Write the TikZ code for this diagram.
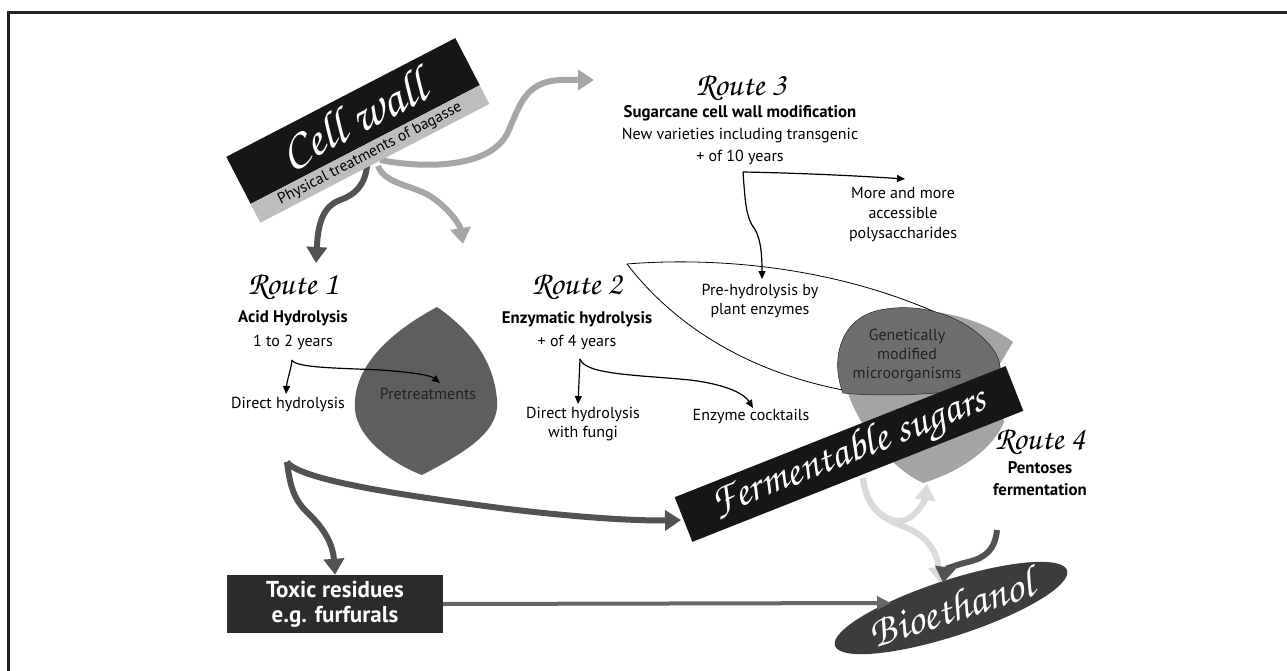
\documentclass[tikz,border=0pt]{standalone}
\usepackage{fontspec}
\setmainfont{PT Sans}
\newfontfamily\scr{texgyrechorus-mediumitalic.otf}
\usetikzlibrary{arrows.meta,shapes.geometric}
\definecolor{frm}{HTML}{222222}
\definecolor{darkarr}{HTML}{525252}
\definecolor{lightarr}{HTML}{A6A6A6}
\definecolor{palearr}{HTML}{DADADA}
\definecolor{leafA}{HTML}{5E5E5E}
\definecolor{gmblob}{HTML}{6E6E6E}
\definecolor{leafB}{HTML}{A4A4A4}
\definecolor{band}{HTML}{BDBDBD}
\definecolor{cwblack}{HTML}{161616}
\definecolor{toxc}{HTML}{2B2B2B}
\definecolor{bioc}{HTML}{3C3C3C}
\definecolor{hline}{HTML}{666666}
\begin{document}
\begin{tikzpicture}[x=1pt,y=-1pt,
  t/.style={font=\fontsize{16}{20}\selectfont, align=center, inner sep=0pt, text=black},
  bt/.style={font=\bfseries\fontsize{16.8}{22}\selectfont, align=center, inner sep=0pt, text=black},
  rt/.style={font=\scr\fontsize{33}{33}\selectfont, inner sep=0pt},
  bigarr/.style={line width=6pt, -{Triangle[width=20pt,length=16pt]}},
  routearr/.style={line width=1.2pt, -{Triangle[width=7pt,length=8pt]}},
  lensline/.style={line width=0.8pt, draw=black}]
\useasboundingbox (0,0) rectangle (1287,671);
\fill[white] (0,0) rectangle (1287,671);
% frame (top and left edges)
\draw[frm, line width=3pt] (8,671) -- (8,13) -- (1287,13);

% lens outline
\coordinate (lensL) at (627,264);
\coordinate (lensT) at (935,312);
\coordinate (lensB) at (843,390);
\draw[lensline] (lensL) .. controls (700,258) and (820,262) .. (lensT);
\draw[lensline] (lensL) .. controls (670,320) and (740,370) .. (lensB);

% pretreatments leaf
\fill[leafA] (437,307) .. controls (385,335) and (352,370) .. (355,410)
  .. controls (358,440) and (395,465) .. (422,475)
  .. controls (470,450) and (500,430) .. (497,400)
  .. controls (494,360) and (470,330) .. (437,307) -- cycle;

% light leaf and GM blob
\fill[leafB] (1013,342) -- (995,372) -- (1004,422)
  .. controls (990,455) and (950,475) .. (923,483)
  .. controls (895,470) and (870,440) .. (855,410)
  .. controls (840,380) and (838,350) .. (860,325)
  .. controls (900,300) and (970,310) .. (1013,342) -- cycle;
\filldraw[fill=gmblob, draw=frm, line width=0.5pt] (843,393) .. controls (830,360) and (840,318) .. (880,310)
  .. controls (920,302) and (960,315) .. (985,340)
  .. controls (1000,355) and (1005,370) .. (995,385)
  .. controls (950,395) and (880,397) .. (843,393) -- cycle;

% Route 3
\node[rt] (r3) at (741,88) {Route 3};
\node[bt] (r3a) at (740,113) {Sugarcane cell wall modification};
\node[t, font=\fontsize{16}{22}\selectfont] (r3b) at (740,146) {New varieties including transgenic\\+ of 10 years};
\node[t] (more) at (903,215) {More and more\\accessible\\polysaccharides};
\node[t, font=\fontsize{16}{19}\selectfont] (ph) at (760,301) {Pre-hydrolysis by\\plant enzymes};
\coordinate (r3o) at (743,172);
\draw[routearr] (r3o) .. controls (800,173) and (860,176) .. (905,179);
\draw[routearr] (r3o) .. controls (745,200) and (746,215) .. (752,225) .. controls (760,235) and (762,250) .. (762,279);

% Route 1
\node[rt] (r1) at (293,287) {Route 1};
\node[bt] (r1a) at (293,318) {Acid Hydrolysis};
\node[t] (r1b) at (293,342) {1 to 2 years};
\node[t] (dh1) at (288,404) {Direct hydrolysis};
\node[t, text=frm] (pre) at (428,394) {Pretreatments};
\coordinate (r1o) at (292,360);
\draw[routearr] (r1o) .. controls (291,370) and (287,380) .. (286,394);
\draw[routearr] (r1o) .. controls (295,368) and (340,368) .. (380,370) .. controls (410,372) and (430,375) .. (440,383);

% Route 2
\node[rt] (r2) at (577,287) {Route 2};
\node[bt] (r2a) at (577,319) {Enzymatic hydrolysis};
\node[t] (r2b) at (577,342) {+ of 4 years};
\node[t, font=\fontsize{16}{19}\selectfont] (dh2) at (583,424) {Direct hydrolysis\\with fungi};
\node[t] (ec) at (751,416) {Enzyme cocktails};
\coordinate (r2o) at (580,359);
\draw[routearr] (r2o) -- (578,404);
\draw[routearr] (r2o) .. controls (585,375) and (640,375) .. (690,380) .. controls (730,385) and (745,395) .. (753,408);

% GM text
\node[t, font=\fontsize{16}{19}\selectfont, text=frm] (gm) at (907,355) {Genetically\\modified\\microorganisms};

% Cell wall
\coordinate (cwo) at (372,164);
\draw[bigarr, darkarr] (367,166) .. controls (365,185) and (355,195) .. (340,200) .. controls (322,207) and (318,225) .. (316,263);
\draw[bigarr, lightarr] (378,166) .. controls (385,185) and (415,185) .. (433,198) .. controls (450,210) and (460,225) .. (463,244);
\draw[bigarr, lightarr] (380,160) .. controls (420,168) and (490,170) .. (508,132) .. controls (520,105) and (525,82) .. (560,80) -- (594,80);
\node[rotate=27.4, fill=cwblack, minimum width=258pt, minimum height=53pt, inner sep=0pt, text=white, font=\scr\fontsize{50}{50}\selectfont] (cw) at (353,121) {Cell wall};
\node[rotate=27.4, fill=band, minimum width=258pt, minimum height=21pt, inner sep=0pt, text=black, font=\fontsize{15.5}{15.5}\selectfont] (phys) at (370,154) {Physical treatments of bagasse};

% pale arrows
\coordinate (fsb) at (863,478);
\draw[bigarr, palearr] (fsb) .. controls (866,510) and (890,525) .. (905,520) .. controls (918,515) and (925,500) .. (927,484);
\draw[bigarr, palearr] (fsb) .. controls (866,510) and (885,520) .. (905,527) .. controls (925,535) and (937,550) .. (940,583);

% Fermentable sugars
\node[rotate=21.6, fill=cwblack, minimum width=356pt, minimum height=48pt, inner sep=0pt, text=white, font=\scr\fontsize{43}{43}\selectfont] (fs) at (849,454) {Fermentable sugars};

% Route 4
\node[rt] (r4) at (1040,442) {Route 4};
\node[bt] (r4a) at (1040,479) {Pentoses\\fermentation};

% Toxic residues
\node[fill=toxc, minimum width=216pt, minimum height=58pt, inner sep=0pt, text=white, font=\bfseries\fontsize{23}{25}\selectfont, align=center] (tox) at (335,604) {Toxic residues\\e.g. furfurals};

% Bioethanol
\node[ellipse, rotate=18, fill=bioc, minimum width=244pt, minimum height=56pt, inner sep=0pt, text=white, font=\scr\fontsize{44}{44}\selectfont] (bio) at (951,608) {Bioethanol};

% route 1 big arrows
\coordinate (r1big) at (287,462);
\draw[bigarr, darkarr] (r1big) .. controls (290,485) and (293,500) .. (310,515) .. controls (325,530) and (333,545) .. (tox.north);
\draw[bigarr, darkarr] (r1big) .. controls (300,480) and (400,495) .. (500,508) .. controls (580,518) and (640,521) .. (681,520);

% toxic to bioethanol
\draw[hline, line width=4pt, -{Triangle[width=13pt,length=14pt]}] (tox.east) -- (891,603);

% route 4 dark arrow
\coordinate (r4o) at (997,530);
\draw[bigarr, darkarr] (r4o) .. controls (995,550) and (985,558) .. (968,562) .. controls (955,565) and (945,570) .. (943,583);
\end{tikzpicture}
\end{document}
